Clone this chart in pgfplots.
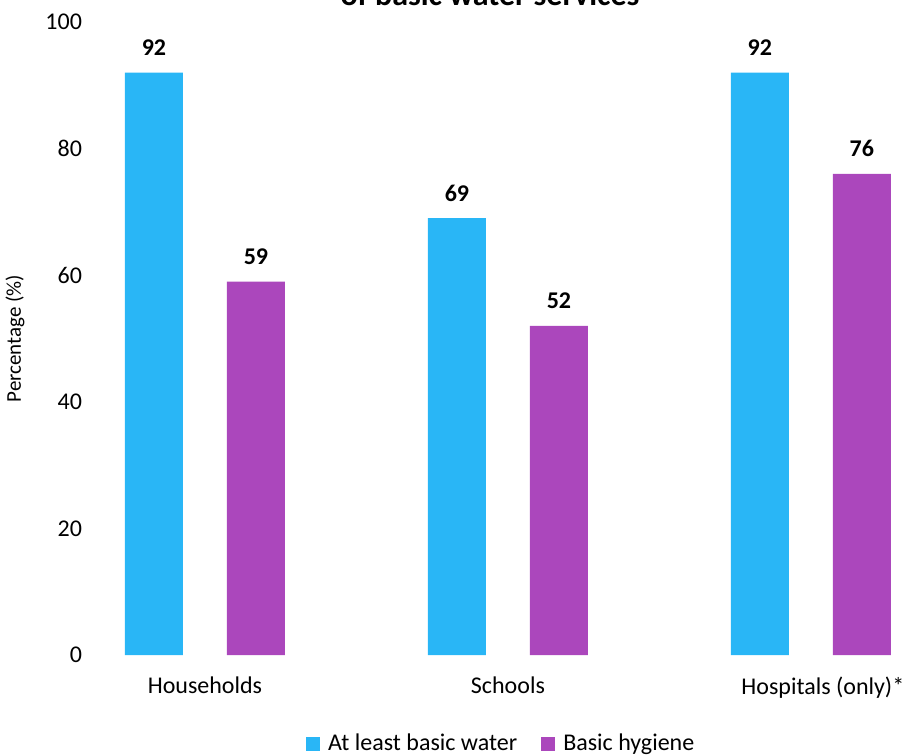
\documentclass[border=0pt]{standalone}
\usepackage{pgfplots}
\pgfplotsset{compat=1.18}
\usepackage{fontspec}
\setmainfont{Carlito}
\definecolor{cblue}{RGB}{41,182,246}
\definecolor{cpurple}{RGB}{171,71,188}
\begin{document}
\begin{tikzpicture}
\useasboundingbox (0,0) rectangle (451.5pt,377.5pt);
\node[font=\fontsize{16}{18}\selectfont\bfseries, anchor=base] at (245pt,374.5pt) {of basic water services};
\begin{axis}[
  at={(47.5pt,50pt)}, anchor=south west,
  scale only axis, width=404pt, height=316.5pt,
  xmin=-0.363, xmax=2.304, ymin=0, ymax=100,
  axis line style={draw=none},
  major tick style={draw=none},
  ytick={0,20,...,100},
  xtick={0,1,2},
  xticklabels={Households,Schools,\hspace*{12pt}Hospitals (only)*},
  font=\fontsize{12}{14}\selectfont,
  ticklabel style={font=\fontsize{12}{14}\selectfont},
  /pgf/number format/assume math mode=true,
  yticklabel style={xshift=-3pt},
  xticklabel style={yshift=-3pt},
  ylabel={Percentage (\%)},
  ylabel style={at={(axis description cs:-0.099,0.5)}, anchor=center, font=\fontsize{10.5}{12}\selectfont},
  ybar, bar width=29pt,
  nodes near coords,
  every node near coord/.append style={font=\fontsize{12}{14}\selectfont\bfseries, anchor=base, yshift=8.5pt, text=black},
  legend style={at={(0.504,0)}, anchor=center, yshift=-44.5pt, draw=none, legend columns=2,
    font=\fontsize{12}{14}\selectfont, /tikz/every even column/.append style={column sep=10pt},
    /tikz/every odd column/.append style={column sep=2pt}},
  legend image code/.code={\fill[#1] (0pt,-3.5pt) rectangle (7pt,3.5pt);},
]
\addplot[fill=cblue, draw=none, bar shift=-25.5pt] coordinates {(0,92) (1,69) (2,92)};
\addlegendentry{At least basic water}
\addplot[fill=cpurple, draw=none, bar shift=25.5pt] coordinates {(0,59) (1,52) (2,76)};
\addlegendentry{Basic hygiene}
\end{axis}
\end{tikzpicture}
\end{document}
